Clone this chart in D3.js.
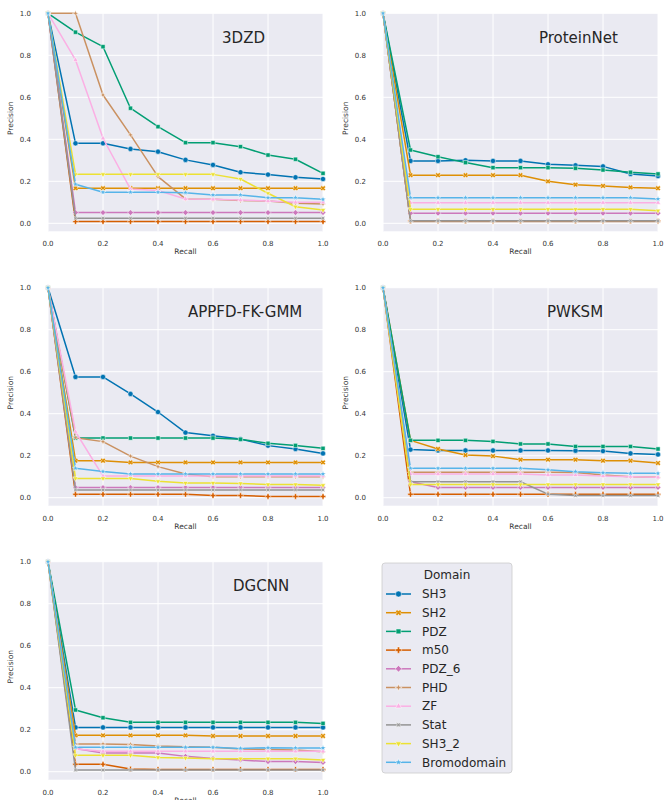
<!DOCTYPE html>
<html>
<head>
<meta charset="utf-8">
<script src="https://cdn.jsdelivr.net/npm/d3@7"></script>
<style>
  body { margin: 0; background: #ffffff; }
  svg text { font-family: "DejaVu Sans", sans-serif; }
</style>
</head>
<body>
<div id="chart"></div>
<script>
// recall levels on the x axis
var recall = [0, 0.1, 0.2, 0.3, 0.4, 0.5, 0.6, 0.7, 0.8, 0.9, 1.0];
var xTicks = [0, 0.2, 0.4, 0.6, 0.8, 1.0];
var yTicks = [0, 0.2, 0.4, 0.6, 0.8, 1.0];

var domains = ["SH3", "SH2", "PDZ", "m50", "PDZ_6", "PHD", "ZF", "Stat", "SH3_2", "Bromodomain"];
var colors = ["#0173b2", "#de8f05", "#029e73", "#d55e00", "#cc78bc", "#ca9161", "#fbafe4", "#949494", "#ece133", "#56b4e9"];
var markers = ["circle", "x", "square", "plus", "diamond", "star4", "tri", "star4r", "trid", "star5"];

var methods = ["3DZD", "ProteinNet", "APPFD-FK-GMM", "PWKSM", "DGCNN"];

// precision per domain, same order as domains
var p3dzd = [
  [1, .381, .381, .354, .341, .302, .278, .243, .232, .219, .211],
  [1, .167, .167, .167, .167, .167, .167, .167, .167, .167, .167],
  [1, .91, .841, .548, .46, .384, .384, .365, .325, .305, .238],
  [1, .008, .008, .008, .008, .008, .008, .008, .008, .008, .008],
  [1, .051, .051, .051, .051, .051, .051, .051, .051, .051, .051],
  [1, 1.0, .611, .421, .222, .116, .114, .108, .106, .095, .092],
  [1, .778, .405, .163, .156, .116, .114, .111, .106, .1, .1],
  [1, .024, .024, .024, .024, .024, .024, .024, .024, .024, .024],
  [1, .233, .233, .233, .233, .233, .233, .211, .143, .079, .063],
  [1, .186, .148, .148, .148, .146, .135, .135, .122, .122, .114]
];
var pProteinNet = [
  [1, .297, .297, .3, .297, .297, .281, .276, .271, .235, .225],
  [1, .229, .229, .229, .229, .229, .2, .184, .178, .171, .167],
  [1, .349, .317, .289, .265, .265, .265, .262, .254, .243, .235],
  [1, .01, .01, .01, .01, .01, .01, .01, .01, .01, .01],
  [1, .048, .048, .048, .048, .048, .048, .048, .048, .048, .048],
  [1, .008, .008, .008, .008, .008, .008, .008, .008, .008, .008],
  [1, .098, .098, .098, .098, .098, .098, .098, .098, .098, .098],
  [1, .012, .012, .012, .012, .012, .012, .012, .012, .012, .012],
  [1, .067, .067, .067, .067, .067, .067, .067, .067, .067, .06],
  [1, .122, .122, .122, .122, .122, .122, .122, .122, .122, .116]
];
var pAppfd = [
  [1, .575, .575, .494, .408, .31, .295, .279, .248, .232, .211],
  [1, .176, .176, .168, .168, .168, .168, .168, .168, .168, .168],
  [1, .284, .284, .284, .284, .284, .284, .278, .259, .249, .235],
  [1, .016, .016, .016, .016, .016, .01, .01, .006, .006, .006],
  [1, .048, .048, .048, .048, .048, .048, .048, .048, .048, .048],
  [1, .286, .267, .198, .148, .113, .1, .1, .1, .1, .1],
  [1, .314, .103, .103, .103, .103, .103, .103, .103, .103, .103],
  [1, .037, .037, .037, .037, .037, .037, .037, .037, .037, .037],
  [1, .092, .092, .092, .078, .07, .07, .068, .063, .063, .059],
  [1, .14, .125, .113, .113, .113, .113, .113, .113, .113, .113]
];
var pPwksm = [
  [1, .229, .225, .225, .225, .225, .225, .224, .222, .211, .206],
  [1, .273, .232, .203, .198, .181, .181, .181, .176, .176, .165],
  [1, .273, .273, .273, .268, .256, .256, .244, .244, .244, .232],
  [1, .016, .016, .016, .016, .016, .016, .016, .016, .016, .016],
  [1, .076, .049, .049, .049, .049, .049, .049, .049, .049, .049],
  [1, .121, .121, .121, .121, .121, .121, .12, .108, .1, .097],
  [1, .113, .113, .113, .113, .113, .108, .108, .103, .1, .097],
  [1, .076, .076, .076, .076, .076, .017, .01, .01, .01, .01],
  [1, .063, .063, .063, .063, .063, .063, .063, .063, .063, .063],
  [1, .14, .14, .14, .14, .14, .133, .124, .119, .116, .116]
];
var pDgcnn = [
  [1, .211, .211, .211, .211, .211, .211, .211, .211, .211, .211],
  [1, .173, .173, .173, .173, .173, .17, .17, .17, .17, .17],
  [1, .294, .257, .235, .235, .235, .235, .235, .235, .235, .23],
  [1, .035, .035, .013, .011, .011, .011, .011, .011, .011, .011],
  [1, .111, .089, .089, .089, .073, .063, .056, .048, .048, .044],
  [1, .132, .132, .13, .122, .119, .116, .108, .106, .103, .095],
  [1, .108, .097, .097, .097, .097, .097, .097, .097, .097, .097],
  [1, .008, .008, .008, .008, .008, .008, .008, .008, .008, .008],
  [1, .078, .078, .078, .068, .065, .062, .062, .062, .062, .056],
  [1, .116, .116, .116, .116, .116, .116, .111, .114, .113, .113]
];
var panelData = [p3dzd, pProteinNet, pAppfd, pPwksm, pDgcnn];

// layout
var W = 665, H = 800;
var colX = [48, 383], rowY = [13.3, 287.7, 561.7];
var pw = 275, ph = 210;
var titleX = [0.633, 0.567, 0.509, 0.596, 0.673];   // left edge of the in-plot title, data coords

var svg = d3.select("#chart").append("svg")
  .attr("width", W).attr("height", H);

function star(n, ro, ri, rot) {
  var pts = [];
  for (var i = 0; i < n * 2; i++) {
    var r = i % 2 === 0 ? ro : ri;
    var a = (rot + i * 180 / n - 90) * Math.PI / 180;
    pts.push([r * Math.cos(a), r * Math.sin(a)]);
  }
  return "M" + pts.map(function(p){ return p[0].toFixed(2) + "," + p[1].toFixed(2); }).join("L") + "Z";
}
function poly(n, r, rot) {
  var pts = [];
  for (var i = 0; i < n; i++) {
    var a = (rot + i * 360 / n - 90) * Math.PI / 180;
    pts.push([r * Math.cos(a), r * Math.sin(a)]);
  }
  return "M" + pts.map(function(p){ return p[0].toFixed(2) + "," + p[1].toFixed(2); }).join("L") + "Z";
}
function crossPath(r, w, rot) {
  var pts = [[-w, -r], [w, -r], [w, -w], [r, -w], [r, w], [w, w], [w, r], [-w, r], [-w, w], [-r, w], [-r, -w], [-w, -w]];
  var a = rot * Math.PI / 180, c = Math.cos(a), s = Math.sin(a);
  return "M" + pts.map(function(p){ return (p[0]*c - p[1]*s).toFixed(2) + "," + (p[0]*s + p[1]*c).toFixed(2); }).join("L") + "Z";
}
function markerPath(kind, r) {
  switch (kind) {
    case "circle": return d3.symbol(d3.symbolCircle, Math.PI * r * r)();
    case "x": return crossPath(r * 1.05, r * 0.38, 45);
    case "square": return poly(4, r * 1.15, 45);
    case "plus": return crossPath(r * 1.05, r * 0.38, 0);
    case "diamond": return poly(4, r * 1.1, 0);
    case "star4": return star(4, r * 1.2, r * 0.45, 0);
    case "tri": return poly(3, r * 1.15, 0);
    case "star4r": return star(4, r * 1.2, r * 0.45, 45);
    case "trid": return poly(3, r * 1.15, 180);
    case "star5": return star(5, r * 1.2, r * 0.5, 0);
  }
}

methods.forEach(function(name, k) {
  var ox = colX[k % 2], oy = rowY[Math.floor(k / 2)];
  var g = svg.append("g").attr("transform", "translate(" + ox + "," + oy + ")");

  var x = d3.scaleLinear().domain([0, 1]).range([0, pw]);
  var y = d3.scaleLinear().domain([0, 1]).range([ph, 0]);
  var yBottom = y(-0.038);

  g.append("rect").attr("x", 0).attr("y", 0)
    .attr("width", pw).attr("height", yBottom)
    .attr("fill", "#eaeaf2");

  // grid
  g.selectAll(".gx").data(xTicks).enter().append("line")
    .attr("x1", function(d){ return x(d); }).attr("x2", function(d){ return x(d); })
    .attr("y1", 0).attr("y2", yBottom)
    .attr("stroke", "#ffffff").attr("stroke-width", 1);
  g.selectAll(".gy").data(yTicks).enter().append("line")
    .attr("x1", 0).attr("x2", pw)
    .attr("y1", function(d){ return y(d); }).attr("y2", function(d){ return y(d); })
    .attr("stroke", "#ffffff").attr("stroke-width", 1);

  // tick labels
  var fmt = d3.format(".1f");
  g.selectAll(".tx").data(xTicks).enter().append("text")
    .attr("x", function(d){ return x(d); }).attr("y", yBottom + 15)
    .attr("text-anchor", "middle").attr("font-size", 7).attr("fill", "#333333")
    .text(fmt);
  g.selectAll(".ty").data(yTicks).enter().append("text")
    .attr("x", -17).attr("y", function(d){ return y(d); })
    .attr("dy", "0.35em")
    .attr("text-anchor", "end").attr("font-size", 7).attr("fill", "#333333")
    .text(fmt);

  g.append("text").attr("x", pw / 2).attr("y", yBottom + 23)
    .attr("text-anchor", "middle").attr("font-size", 7.5).attr("fill", "#333333")
    .text("Recall");
  g.append("text")
    .attr("transform", "translate(" + (-35) + "," + (ph / 2) + ") rotate(-90)")
    .attr("text-anchor", "middle").attr("font-size", 7.5).attr("fill", "#333333")
    .text("Precision");

  var line = d3.line()
    .x(function(d, i){ return x(recall[i]); })
    .y(function(d){ return y(d); });

  var series = panelData[k];
  series.forEach(function(vals, j) {
    var sg = g.append("g");
    sg.append("path").attr("d", line(vals))
      .attr("fill", "none").attr("stroke", colors[j])
      .attr("stroke-width", 1.5).attr("stroke-linejoin", "round");
    sg.selectAll("path.m").data(vals).enter().append("path")
      .attr("class", "m")
      .attr("transform", function(d, i){ return "translate(" + x(recall[i]) + "," + y(d) + ")"; })
      .attr("d", markerPath(markers[j], 2.6))
      .attr("fill", colors[j]).attr("stroke", "#ffffff").attr("stroke-width", 0.5);
  });

  g.append("text")
    .attr("x", x(titleX[k])).attr("y", y(0.885))
    .attr("dy", "0.36em")
    .attr("font-size", 15).attr("fill", "#262626")
    .text(name);
});

// legend
var lg = svg.append("g").attr("transform", "translate(382,563)");
lg.append("rect").attr("x", 0).attr("y", 0)
  .attr("width", 130).attr("height", 210).attr("rx", 3)
  .attr("fill", "#eaeaf2").attr("stroke", "#cccccc").attr("stroke-width", 0.8);
lg.append("text").attr("x", 65).attr("y", 12)
  .attr("dy", "0.35em").attr("text-anchor", "middle")
  .attr("font-size", 12).attr("fill", "#262626").text("Domain");
var items = lg.selectAll(".item").data(domains).enter().append("g")
  .attr("transform", function(d, i){ return "translate(0," + (31 + i * 18.7) + ")"; });
items.append("line").attr("x1", 4).attr("x2", 29).attr("y1", 0).attr("y2", 0)
  .attr("stroke", function(d, i){ return colors[i]; }).attr("stroke-width", 1.5);
items.append("path").attr("transform", "translate(16.5,0)")
  .attr("d", function(d, i){ return markerPath(markers[i], 3); })
  .attr("fill", function(d, i){ return colors[i]; })
  .attr("stroke", "#ffffff").attr("stroke-width", 0.5);
items.append("text").attr("x", 40).attr("dy", "0.35em")
  .attr("font-size", 12).attr("fill", "#262626")
  .text(function(d){ return d; });
</script>
</body>
</html>
